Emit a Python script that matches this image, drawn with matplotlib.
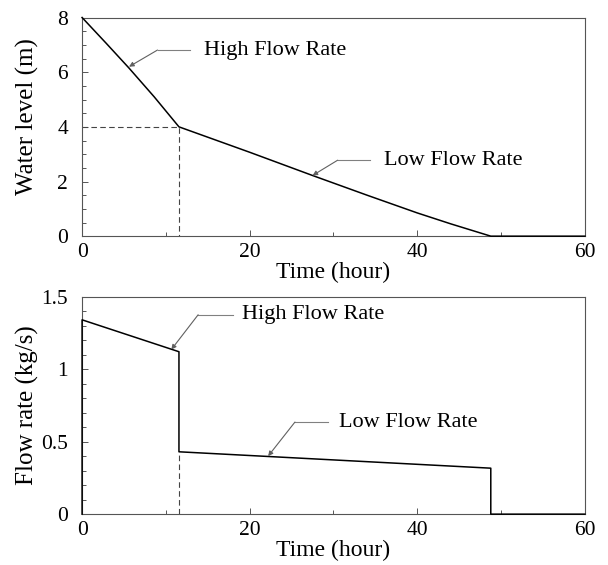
import matplotlib
matplotlib.use('Agg')
from matplotlib import pyplot as plt
from matplotlib.ticker import MultipleLocator, FuncFormatter


# water level (m) vs time (hour)
level_t = [0, 2.9, 5.6, 8.6, 11.56, 20, 27.5, 34, 40, 44, 48.77, 60]
level_h = [8, 7.05, 6.15, 5.1, 4.0, 3.07, 2.22, 1.5, 0.85, 0.45, 0, 0]

# flow rate (kg/s) vs time (hour)
flow_t = [0, 0, 11.56, 11.56, 48.77, 48.77, 60]
flow_q = [0, 1.34, 1.12, 0.43, 0.317, 0, 0]

switch_t = 11.56
switch_h = 4.0
switch_q = 0.43

# annotation leaders: tip on curve, elbow, end of horizontal, text x
top_high = [(5.6, 6.2), (9.0, 6.81), 12.9, 14.6]
top_low = [(27.5, 2.22), (30.5, 2.78), 34.4, 36.0]
bot_high = [(10.65, 1.135), (13.85, 1.375), 18.0, 19.1]
bot_low = [(22.2, 0.40), (25.4, 0.635), 29.4, 30.6]

SERIF = ['Liberation Serif', 'DejaVu Serif']
plt.rcParams['font.family'] = SERIF


def leader(ax, spec, label):
	tip, knee, xend, xtext = spec
	ax.plot([knee[0], xend], [knee[1], knee[1]], color='#808080', lw=0.8)
	ax.annotate('', xy=tip, xytext=knee,
		arrowprops=dict(arrowstyle='-|>', color='#606060', lw=0.8,
			mutation_scale=7, shrinkA=0, shrinkB=0))
	ax.text(xtext, knee[1], label, fontsize=16, va='center', ha='left')


def style(ax, ymax, ymajor, yminor, ylabel, ylab_y):
	ax.set_xlim(0, 60)
	ax.set_ylim(0, ymax)
	ax.xaxis.set_major_locator(MultipleLocator(20))
	ax.xaxis.set_minor_locator(MultipleLocator(10))
	ax.yaxis.set_major_locator(MultipleLocator(ymajor))
	ax.yaxis.set_minor_locator(MultipleLocator(yminor))
	ax.yaxis.set_major_formatter(FuncFormatter(lambda v, p: '%g' % v))
	ax.tick_params(which='both', direction='in', top=False, right=False,
		color='#555555', width=0.7)
	ax.tick_params(which='major', length=4, labelsize=15.5)
	ax.tick_params(which='minor', length=3)
	ax.tick_params(axis='y', pad=10)
	ax.tick_params(axis='x', pad=5)
	for s in ax.spines.values():
		s.set_color('#555555')
		s.set_linewidth(0.8)
	ax.set_xlabel('Time (hour)', fontsize=17, labelpad=0)
	ax.set_ylabel(ylabel, fontsize=18)
	ax.yaxis.set_label_coords(-0.086, ylab_y)


def main():
	fig = plt.figure(figsize=(6.08, 5.65), dpi=100)
	ax1 = fig.add_axes([0.135, 0.582, 0.827, 0.387])
	ax2 = fig.add_axes([0.135, 0.090, 0.827, 0.385])

	ax1.plot(level_t, level_h, color='black', lw=1.1, clip_on=False, zorder=3)
	ax1.plot([0, switch_t, switch_t], [switch_h, switch_h, 0],
		color='#444444', lw=0.8, ls=(0, (5, 3)))
	style(ax1, 8, 2, 0.5, 'Water level (m)', 0.548)
	leader(ax1, top_high, 'High Flow Rate')
	leader(ax1, top_low, 'Low Flow Rate')

	ax2.plot(flow_t, flow_q, color='black', lw=1.1, clip_on=False, zorder=3)
	ax2.plot([switch_t, switch_t], [0, switch_q],
		color='#444444', lw=0.8, ls=(0, (5, 3)))
	style(ax2, 1.5, 0.5, 0.1, 'Flow rate (kg/s)', 0.5)
	leader(ax2, bot_high, 'High Flow Rate')
	leader(ax2, bot_low, 'Low Flow Rate')

	fig.savefig('out.png', dpi=100)


main()
